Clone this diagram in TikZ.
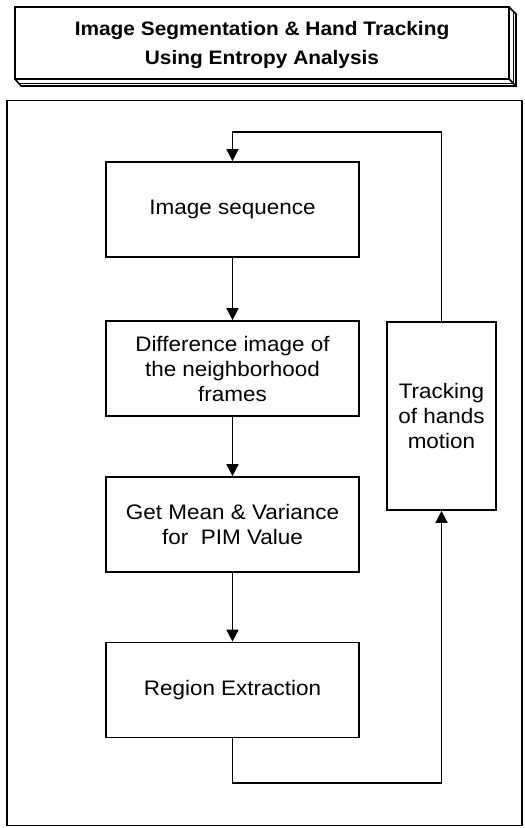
\documentclass[tikz,border=0pt]{standalone}
\usepackage{fontspec}
\setmainfont[FakeStretch=1.07]{Liberation Sans}
\usetikzlibrary{arrows.meta,calc}
\begin{document}
\begin{tikzpicture}[x=1pt,y=-1pt,
  ln/.style={line width=1.6pt},
  stepbox/.style={draw,line width=1.7pt,minimum width=253pt,minimum height=95pt,
    align=center,inner sep=0pt,font=\fontsize{21}{25}\selectfont},
  flow/.style={line width=1.6pt,-{Triangle[width=12pt,length=12pt]}},
  conn/.style={line width=1.6pt}]
\useasboundingbox (0,0) rectangle (525,828);
% title box with bevel
\draw[ln,fill=white,line join=miter] (15,79) -- (21,86) -- (516,86) -- (516,14) -- (509,7);
\draw[line width=0.8pt] (19,83) -- (513,83) (513,12) -- (513,83);
\draw[ln] (509,79) -- (516,86);
\node[draw,line width=1.7pt,minimum width=494pt,minimum height=72pt,inner sep=0pt] (title) at (262,43) {};
\node[align=center,inner sep=0pt,font=\fontsize{19.5}{29}\selectfont\bfseries] (titletext) at (262,45)
  {Image Segmentation \& Hand Tracking\\Using Entropy Analysis};
% outer frame
\node[draw,line width=1.6pt,minimum width=515pt,minimum height=725pt,inner sep=0pt] (frame) at (264.5,463) {};
% boxes
\node[stepbox] (b1) at (232.5,209.5) {Image sequence};
\node[stepbox] (b2) at (232.5,368.5) {Difference image of\\the neighborhood\\frames};
\node[stepbox] (b3) at (232.5,524.5) {Get Mean \& Variance\\for\ \ PIM Value};
\node[stepbox] (b4) at (232.5,690) {Region Extraction};
\node[stepbox,minimum width=109pt,minimum height=188pt] (tr) at (441.5,416) {Tracking\\of hands\\motion};
% connectors
\draw[flow] (b1.south) -- (b2.north);
\draw[flow] (b2.south) -- (b3.north);
\draw[flow] (b3.south) -- (b4.north);
\coordinate (lb) at (232.5,783);
\coordinate (rb) at (441.5,783);
\draw[flow] (b4.south) -- (lb) -- (rb) -- (tr.south);
\coordinate (rt) at (441.5,132);
\coordinate (lt) at (232.5,132);
\draw[flow] (tr.north) -- (rt) -- (lt) -- (b1.north);
\end{tikzpicture}
\end{document}
